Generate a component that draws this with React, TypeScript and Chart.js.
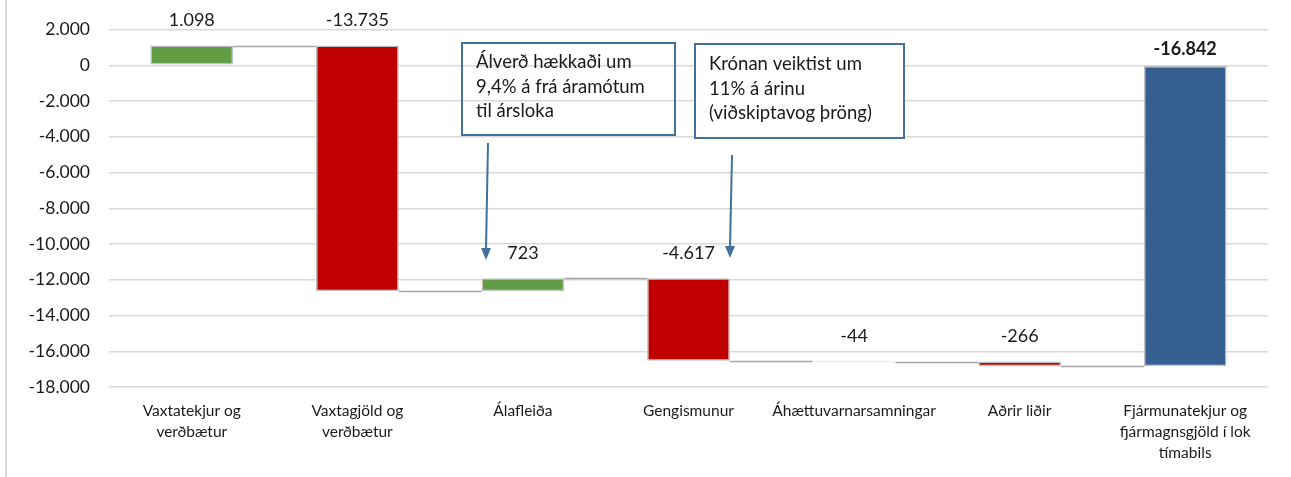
import React, { useEffect, useRef } from "react";
import { Chart, registerables } from "chart.js";

Chart.register(...registerables);

const categories: string[][] = [
  ["Vaxtatekjur og", "verðbætur"],
  ["Vaxtagjöld og", "verðbætur"],
  ["Álafleiða"],
  ["Gengismunur"],
  ["Áhættuvarnarsamningar"],
  ["Aðrir liðir"],
  ["Fjármunatekjur og", "fjármagnsgjöld í lok", "tímabils"],
];
const changes = [1098, -13735, 723, -4617, -44, -266];
const totalValue = -16842;
const yMin = -18000;
const yMax = 2000;
const yStep = 2000;

const annotation1 = ["Álverð hækkaði um", "9,4% á frá áramótum", "til ársloka"];
const annotation2 = ["Krónan veiktist um", "11% á árinu", "(viðskiptavog þröng)"];

const GREEN = "#629C44";
const RED = "#C00000";
const BLUE = "#365F91";
const FONT = "Lato, 'Open Sans', sans-serif";

function fmt(v: number): string {
  const s = Math.abs(Math.round(v)).toString().replace(/\B(?=(\d{3})+(?!\d))/g, ".");
  return (v < 0 ? "-" : "") + s;
}

export default function App() {
  const ref = useRef<HTMLCanvasElement | null>(null);

  useEffect(() => {
    if (!ref.current) return;
    const ranges: [number, number][] = [];
    let run = 0;
    for (const c of changes) {
      ranges.push([run, run + c]);
      run += c;
    }
    ranges.push([0, totalValue]);
    const labelsVals = [...changes, totalValue];
    const colors = [...changes.map((c) => (c >= 0 ? GREEN : RED)), BLUE];

    const overlay = {
      id: "overlay",
      afterDatasetsDraw(chart: any) {
        const ctx = chart.ctx;
        const meta = chart.getDatasetMeta(0);
        const ys = chart.scales.y;
        ctx.save();
        // connectors
        ctx.strokeStyle = "#A6A6A6";
        ctx.lineWidth = 1.5;
        for (let i = 0; i < ranges.length - 1; i++) {
          const a = meta.data[i];
          const b = meta.data[i + 1];
          const y = Math.round(ys.getPixelForValue(ranges[i][1])) + 0.5;
          ctx.beginPath();
          ctx.moveTo(a.x + a.width / 2, y);
          ctx.lineTo(b.x - b.width / 2, y);
          ctx.stroke();
        }
        // value labels
        ctx.fillStyle = "#1a1a1a";
        ctx.textAlign = "center";
        ctx.textBaseline = "middle";
        for (let i = 0; i < ranges.length; i++) {
          const el = meta.data[i];
          const top = ys.getPixelForValue(Math.max(ranges[i][0], ranges[i][1]));
          const isTotal = i === ranges.length - 1;
          ctx.font = (isTotal ? "bold " : "") + "18px " + FONT;
          ctx.fillText(fmt(labelsVals[i]), el.x, top - (isTotal ? 16 : 25));
        }
        // annotations
        const drawBox = (x: number, y: number, w: number, h: number, lines: string[], fill: boolean, lineYs: number[]) => {
          if (fill) {
            ctx.fillStyle = "#ffffff";
            ctx.fillRect(x, y, w, h);
          }
          ctx.strokeStyle = "#41719C";
          ctx.lineWidth = 2;
          ctx.strokeRect(x, y, w, h);
          ctx.fillStyle = "#1a1a1a";
          ctx.font = "18.5px " + FONT;
          ctx.textAlign = "left";
          ctx.textBaseline = "middle";
          lines.forEach((t, k) => ctx.fillText(t, x + 14, lineYs[k]));
        };
        drawBox(462, 43, 213, 92, annotation1, false, [62, 87, 111]);
        drawBox(695, 44, 209, 94, annotation2, true, [64, 89, 113]);
        const arrow = (x1: number, y1: number, x2: number, y2: number) => {
          ctx.strokeStyle = "#41719C";
          ctx.fillStyle = "#41719C";
          ctx.lineWidth = 2;
          ctx.beginPath();
          ctx.moveTo(x1, y1);
          ctx.lineTo(x2, y2 - 10);
          ctx.stroke();
          ctx.beginPath();
          ctx.moveTo(x2, y2);
          ctx.lineTo(x2 - 5, y2 - 12);
          ctx.lineTo(x2 + 5, y2 - 12);
          ctx.closePath();
          ctx.fill();
        };
        arrow(488, 143, 486, 260);
        arrow(732, 155, 730, 258);
        ctx.restore();
      },
    };

    const chart = new Chart(ref.current, {
      type: "bar",
      data: {
        labels: categories,
        datasets: [
          {
            data: ranges as any,
            backgroundColor: colors,
            borderColor: "#BFBFBF",
            borderWidth: 1.5,
            borderSkipped: false,
            categoryPercentage: 1,
            barPercentage: 0.5,
          },
        ],
      },
      options: {
        animation: false,
        responsive: false,
        maintainAspectRatio: false,
        layout: { padding: { left: 9, right: 23, top: 27, bottom: 0 } },
        plugins: { legend: { display: false }, tooltip: { enabled: false } },
        scales: {
          x: {
            grid: { display: false },
            border: { display: false },
            ticks: {
              color: "#1a1a1a",
              font: { family: FONT, size: 15.5, lineHeight: 1.35 },
              padding: 6,
              maxRotation: 0,
              autoSkip: false,
            },
            afterFit: (s: any) => {
              s.height = 90;
            },
          },
          y: {
            min: yMin,
            max: yMax,
            grid: { color: "#D9D9D9", lineWidth: 1.5, drawTicks: false },
            border: { display: false },
            ticks: {
              stepSize: yStep,
              color: "#1a1a1a",
              font: { family: FONT, size: 17.5 },
              padding: 19,
              callback: (v: any) => fmt(Number(v)),
            },
            afterFit: (s: any) => {
              s.width = 100;
            },
          },
        },
      },
      plugins: [overlay],
    });
    return () => chart.destroy();
  }, []);

  return (
    <div style={{ position: "absolute", left: 0, top: 0, width: 1291, height: 477, background: "#fff" }}>
      <div style={{ position: "absolute", left: 5, top: 0, width: 2, height: 477, background: "#D9D9D9" }} />
      <canvas ref={ref} width={1291} height={477} style={{ position: "absolute", left: 0, top: 0 }} />
    </div>
  );
}
